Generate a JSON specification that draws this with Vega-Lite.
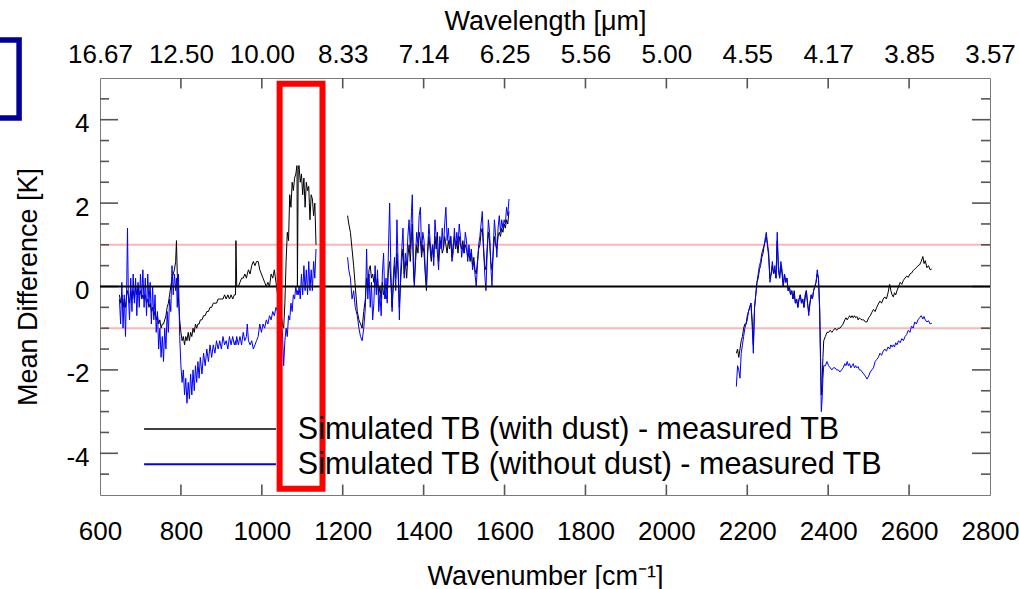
{
  "$schema": "https://vega.github.io/schema/vega-lite/v6.json",
  "width": 890,
  "height": 417,
  "autosize": {"type": "none"},
  "padding": {"left": 100, "top": 78, "right": 29, "bottom": 94},
  "background": "white",
  "config": {
    "view": {"stroke": null},
    "font": "Liberation Sans",
    "axis": {
      "labelColor": "black",
      "titleColor": "black",
      "labelFont": "Liberation Sans",
      "labelFontSize": 26,
      "titleFont": "Liberation Sans",
      "titleFontSize": 27,
      "titleFontWeight": "normal",
      "grid": false
    }
  },
  "datasets": {
    "spec": [
      {"w":648,"a":-0.2,"b":-0.3,"g":1},{"w":651,"a":-0.4,"b":-0.9,"g":1},{"w":654,"a":-0.2,"b":0.1,"g":1},{"w":657,"a":-0.5,"b":-1.0,"g":1},
      {"w":660,"a":-0.3,"b":-0.2,"g":1},{"w":663,"a":-0.5,"b":-1.2,"g":1},{"w":666,"a":-0.2,"b":0.0,"g":1},{"w":668,"a":-0.1,"b":1.4,"g":1},
      {"w":670,"a":-0.2,"b":-0.2,"g":1},{"w":673,"a":-0.4,"b":-0.8,"g":1},{"w":676,"a":-0.1,"b":0.2,"g":1},{"w":679,"a":-0.3,"b":-0.6,"g":1},
      {"w":682,"a":-0.1,"b":0.3,"g":1},{"w":685,"a":-0.3,"b":-0.4,"g":1},{"w":688,"a":0.0,"b":0.2,"g":1},{"w":691,"a":-0.2,"b":-0.7,"g":1},
      {"w":694,"a":0.0,"b":0.1,"g":1},{"w":697,"a":-0.2,"b":-0.5,"g":1},{"w":700,"a":-0.1,"b":0.3,"g":1},{"w":703,"a":-0.3,"b":-0.3,"g":1},
      {"w":706,"a":-0.2,"b":0.4,"g":1},{"w":709,"a":-0.3,"b":-0.5,"g":1},{"w":712,"a":-0.2,"b":0.2,"g":1},{"w":715,"a":-0.4,"b":-0.7,"g":1},
      {"w":718,"a":-0.3,"b":0.3,"g":1},{"w":721,"a":-0.5,"b":-0.4,"g":1},{"w":724,"a":-0.4,"b":0.1,"g":1},{"w":727,"a":-0.6,"b":-0.9,"g":1},
      {"w":730,"a":-0.5,"b":0.0,"g":1},{"w":733,"a":-0.7,"b":-0.8,"g":1},{"w":736,"a":-0.6,"b":-0.2,"g":1},{"w":739,"a":-0.8,"b":-1.1,"g":1},
      {"w":742,"a":-0.7,"b":-0.6,"g":1},{"w":745,"a":-0.9,"b":-1.5,"g":1},{"w":748,"a":-0.8,"b":-1.0,"g":1},{"w":751,"a":-1.0,"b":-1.7,"g":1},
      {"w":754,"a":-0.9,"b":-1.2,"g":1},{"w":757,"a":-0.9,"b":-1.8,"g":1},{"w":760,"a":-0.8,"b":-1.0,"g":1},{"w":763,"a":-0.7,"b":-1.5,"g":1},
      {"w":766,"a":-0.5,"b":-0.6,"g":1},{"w":769,"a":-0.4,"b":-1.1,"g":1},{"w":772,"a":-0.2,"b":-0.3,"g":1},{"w":775,"a":0.0,"b":-0.6,"g":1},
      {"w":778,"a":0.2,"b":0.5,"g":1},{"w":781,"a":0.3,"b":-0.2,"g":1},{"w":784,"a":0.4,"b":0.3,"g":1},{"w":787,"a":0.6,"b":-0.1,"g":1},
      {"w":789,"a":1.1,"b":0.2,"g":1},{"w":791,"a":0.3,"b":-0.5,"g":1},{"w":794,"a":-0.3,"b":0.3,"g":1},{"w":797,"a":-0.8,"b":-1.2,"g":1},
      {"w":800,"a":-1.1,"b":-1.9,"g":1},{"w":803,"a":-1.3,"b":-2.3,"g":1},{"w":806,"a":-1.2,"b":-2.0,"g":1},{"w":809,"a":-1.4,"b":-2.6,"g":1},
      {"w":812,"a":-1.2,"b":-2.2,"g":1},{"w":815,"a":-1.3,"b":-2.8,"g":1},{"w":818,"a":-1.1,"b":-2.3,"g":1},{"w":821,"a":-1.3,"b":-2.7,"g":1},
      {"w":824,"a":-1.1,"b":-2.1,"g":1},{"w":827,"a":-1.2,"b":-2.6,"g":1},{"w":830,"a":-1.0,"b":-2.0,"g":1},{"w":833,"a":-1.1,"b":-2.5,"g":1},
      {"w":836,"a":-0.9,"b":-1.9,"g":1},{"w":839,"a":-1.0,"b":-2.3,"g":1},{"w":842,"a":-0.9,"b":-1.8,"g":1},{"w":845,"a":-0.9,"b":-2.2,"g":1},
      {"w":848,"a":-0.8,"b":-1.7,"g":1},{"w":852,"a":-0.8,"b":-2.1,"g":1},{"w":856,"a":-0.7,"b":-1.6,"g":1},{"w":860,"a":-0.7,"b":-1.9,"g":1},
      {"w":864,"a":-0.6,"b":-1.5,"g":1},{"w":868,"a":-0.6,"b":-1.8,"g":1},{"w":872,"a":-0.5,"b":-1.4,"g":1},{"w":876,"a":-0.5,"b":-1.7,"g":1},
      {"w":880,"a":-0.4,"b":-1.4,"g":1},{"w":884,"a":-0.4,"b":-1.6,"g":1},{"w":888,"a":-0.4,"b":-1.3,"g":1},{"w":892,"a":-0.3,"b":-1.5,"g":1},
      {"w":896,"a":-0.3,"b":-1.3,"g":1},{"w":900,"a":-0.3,"b":-1.5,"g":1},{"w":904,"a":-0.3,"b":-1.2,"g":1},{"w":908,"a":-0.2,"b":-1.4,"g":1},
      {"w":912,"a":-0.3,"b":-1.3,"g":1},{"w":916,"a":-0.2,"b":-1.5,"g":1},{"w":920,"a":-0.3,"b":-1.2,"g":1},{"w":924,"a":-0.2,"b":-1.4,"g":1},
      {"w":928,"a":-0.3,"b":-1.2,"g":1},{"w":932,"a":-0.2,"b":-1.4,"g":1},{"w":935,"a":-0.2,"b":-1.3,"g":1},{"w":936,"a":1.1,"b":-1.4,"g":1},
      {"w":938,"a":0.0,"b":-1.2,"g":1},{"w":942,"a":0.0,"b":-1.4,"g":1},{"w":946,"a":0.1,"b":-1.2,"g":1},{"w":950,"a":0.2,"b":-1.4,"g":1},
      {"w":954,"a":0.2,"b":-1.1,"g":1},{"w":958,"a":0.3,"b":-1.3,"g":1},{"w":962,"a":0.2,"b":-1.2,"g":1},{"w":964,"a":0.3,"b":-0.9,"g":1},
      {"w":967,"a":0.4,"b":-1.3,"g":1},{"w":971,"a":0.3,"b":-1.4,"g":1},{"w":975,"a":0.5,"b":-1.3,"g":1},{"w":979,"a":0.6,"b":-1.5,"g":1},
      {"w":983,"a":0.5,"b":-1.4,"g":1},{"w":987,"a":0.6,"b":-1.3,"g":1},{"w":991,"a":0.6,"b":-1.2,"g":1},{"w":995,"a":0.4,"b":-0.9,"g":1},
      {"w":999,"a":0.3,"b":-1.1,"g":1},{"w":1003,"a":0.2,"b":-0.9,"g":1},{"w":1007,"a":0.1,"b":-1.0,"g":1},{"w":1011,"a":0.0,"b":-0.8,"g":1},
      {"w":1015,"a":0.1,"b":-0.9,"g":1},{"w":1019,"a":0.0,"b":-0.7,"g":1},{"w":1023,"a":0.3,"b":-0.8,"g":1},{"w":1027,"a":0.2,"b":-0.6,"g":1},
      {"w":1031,"a":0.4,"b":-0.7,"g":1},{"w":1035,"a":0.1,"b":-0.5,"g":1},{"w":1039,"a":-0.2,"b":-0.6,"g":1},{"w":1043,"a":-0.4,"b":-0.4,"g":1},
      {"w":1047,"a":-0.6,"b":-0.8,"g":1},{"w":1051,"a":-0.9,"b":-1.1,"g":1},{"w":1054,"a":-1.0,"b":-1.9,"g":1},{"w":1057,"a":-0.4,"b":-1.3,"g":1},
      {"w":1060,"a":0.6,"b":-1.0,"g":1},{"w":1063,"a":1.3,"b":-1.2,"g":1},{"w":1066,"a":1.1,"b":-0.7,"g":1},{"w":1069,"a":2.2,"b":-0.8,"g":1},
      {"w":1072,"a":1.9,"b":-0.4,"g":1},{"w":1075,"a":2.5,"b":-0.6,"g":1},{"w":1078,"a":2.3,"b":-0.2,"g":1},{"w":1081,"a":2.6,"b":-0.3,"g":1},
      {"w":1084,"a":2.7,"b":0.0,"g":1},{"w":1087,"a":2.9,"b":-0.2,"g":1},{"w":1088,"a":0.0,"b":-0.1,"g":1},{"w":1090,"a":2.8,"b":-0.2,"g":1},
      {"w":1092,"a":2.9,"b":0.0,"g":1},{"w":1095,"a":2.5,"b":-0.3,"g":1},{"w":1098,"a":2.7,"b":0.3,"g":1},{"w":1101,"a":2.2,"b":-0.2,"g":1},
      {"w":1104,"a":2.6,"b":0.5,"g":1},{"w":1107,"a":1.9,"b":-0.1,"g":1},{"w":1110,"a":2.5,"b":0.4,"g":1},{"w":1113,"a":2.3,"b":-0.2,"g":1},
      {"w":1116,"a":2.4,"b":0.6,"g":1},{"w":1119,"a":1.6,"b":-0.1,"g":1},{"w":1122,"a":2.2,"b":0.4,"g":1},{"w":1125,"a":2.1,"b":-0.1,"g":1},
      {"w":1128,"a":1.7,"b":0.6,"g":1},{"w":1131,"a":2.0,"b":0.2,"g":1},{"w":1134,"a":1.0,"b":0.9,"g":1},

      {"w":1212,"a":1.7,"b":0.7,"g":2},{"w":1215,"a":1.5,"b":0.4,"g":2},{"w":1219,"a":1.3,"b":0.2,"g":2},{"w":1223,"a":0.9,"b":-0.3,"g":2},
      {"w":1227,"a":0.5,"b":-0.1,"g":2},{"w":1231,"a":0.0,"b":-0.5,"g":2},{"w":1236,"a":-0.6,"b":-0.7,"g":2},{"w":1240,"a":-0.8,"b":-1.0,"g":2},
      {"w":1244,"a":-0.9,"b":-1.2,"g":2},{"w":1248,"a":-1.0,"b":-1.3,"g":2},{"w":1252,"a":-0.6,"b":-1.0,"g":2},{"w":1256,"a":-0.3,"b":-0.5,"g":2},
      {"w":1259,"a":0.2,"b":0.9,"g":2},{"w":1262,"a":0.0,"b":-0.3,"g":2},{"w":1265,"a":0.4,"b":0.3,"g":2},{"w":1268,"a":0.5,"b":-0.5,"g":2},
      {"w":1271,"a":0.2,"b":0.1,"g":2},{"w":1274,"a":0.3,"b":-0.8,"g":2},{"w":1277,"a":0.1,"b":-0.4,"g":2},{"w":1280,"a":0.3,"b":0.5,"g":2},
      {"w":1283,"a":0.0,"b":-0.2,"g":2},{"w":1286,"a":0.2,"b":0.4,"g":2},{"w":1289,"a":-0.2,"b":-0.6,"g":2},{"w":1292,"a":0.0,"b":-0.2,"g":2},
      {"w":1295,"a":-0.3,"b":-0.7,"g":2},{"w":1298,"a":0.1,"b":0.3,"g":2},{"w":1301,"a":-0.2,"b":0.8,"g":2},{"w":1304,"a":-0.1,"b":-0.3,"g":2},
      {"w":1307,"a":-0.3,"b":0.2,"g":2},{"w":1310,"a":-0.2,"b":-0.4,"g":2},{"w":1313,"a":0.4,"b":0.9,"g":2},{"w":1316,"a":0.6,"b":2.0,"g":2},
      {"w":1319,"a":0.1,"b":0.4,"g":2},{"w":1322,"a":-0.5,"b":-0.6,"g":2},{"w":1325,"a":0.0,"b":0.2,"g":2},{"w":1328,"a":0.5,"b":0.7,"g":2},
      {"w":1331,"a":0.2,"b":-0.1,"g":2},{"w":1334,"a":0.8,"b":1.6,"g":2},{"w":1337,"a":0.3,"b":0.5,"g":2},{"w":1340,"a":-0.5,"b":-0.8,"g":2},
      {"w":1343,"a":0.1,"b":0.3,"g":2},{"w":1346,"a":0.6,"b":0.9,"g":2},{"w":1349,"a":0.9,"b":1.4,"g":2},{"w":1352,"a":0.3,"b":0.2,"g":2},
      {"w":1355,"a":0.6,"b":0.8,"g":2},{"w":1358,"a":0.2,"b":0.5,"g":2},{"w":1361,"a":0.7,"b":1.2,"g":2},{"w":1364,"a":1.0,"b":1.6,"g":2},
      {"w":1367,"a":0.6,"b":0.9,"g":2},{"w":1370,"a":1.2,"b":1.8,"g":2},{"w":1372,"a":1.5,"b":2.2,"g":2},{"w":1375,"a":0.4,"b":0.3,"g":2},
      {"w":1377,"a":0.1,"b":0.0,"g":2},{"w":1380,"a":0.6,"b":0.8,"g":2},{"w":1383,"a":1.0,"b":1.3,"g":2},{"w":1386,"a":0.8,"b":1.0,"g":2},
      {"w":1389,"a":1.3,"b":1.7,"g":2},{"w":1392,"a":1.1,"b":1.9,"g":2},{"w":1395,"a":0.7,"b":0.8,"g":2},{"w":1398,"a":1.0,"b":1.3,"g":2},
      {"w":1401,"a":0.8,"b":1.1,"g":2},{"w":1404,"a":0.3,"b":0.4,"g":2},{"w":1407,"a":-0.1,"b":0.0,"g":2},{"w":1410,"a":0.8,"b":0.9,"g":2},
      {"w":1413,"a":1.2,"b":1.5,"g":2},{"w":1416,"a":0.9,"b":1.1,"g":2},{"w":1419,"a":0.6,"b":0.7,"g":2},{"w":1422,"a":1.0,"b":1.0,"g":2},
      {"w":1425,"a":0.7,"b":0.5,"g":2},{"w":1428,"a":1.2,"b":1.6,"g":2},{"w":1431,"a":0.9,"b":1.2,"g":2},{"w":1434,"a":1.3,"b":0.8,"g":2},
      {"w":1437,"a":0.6,"b":0.4,"g":2},{"w":1440,"a":1.0,"b":1.2,"g":2},{"w":1443,"a":1.1,"b":0.9,"g":2},{"w":1446,"a":0.8,"b":1.4,"g":2},
      {"w":1449,"a":0.9,"b":0.9,"g":2},{"w":1452,"a":1.2,"b":1.5,"g":2},{"w":1455,"a":1.0,"b":1.9,"g":2},{"w":1458,"a":0.8,"b":1.1,"g":2},
      {"w":1461,"a":1.1,"b":1.4,"g":2},{"w":1464,"a":0.9,"b":1.0,"g":2},{"w":1467,"a":1.2,"b":1.2,"g":2},{"w":1470,"a":0.7,"b":0.6,"g":2},
      {"w":1473,"a":1.0,"b":0.8,"g":2},{"w":1476,"a":1.2,"b":1.4,"g":2},{"w":1479,"a":0.9,"b":0.9,"g":2},{"w":1482,"a":1.1,"b":1.3,"g":2},
      {"w":1485,"a":0.8,"b":1.0,"g":2},{"w":1488,"a":1.2,"b":1.5,"g":2},{"w":1491,"a":1.0,"b":1.2,"g":2},{"w":1494,"a":0.9,"b":0.7,"g":2},
      {"w":1497,"a":1.1,"b":1.0,"g":2},{"w":1500,"a":0.8,"b":0.8,"g":2},{"w":1503,"a":1.0,"b":1.3,"g":2},{"w":1506,"a":0.9,"b":1.1,"g":2},
      {"w":1509,"a":0.7,"b":0.6,"g":2},{"w":1512,"a":0.8,"b":1.0,"g":2},{"w":1515,"a":0.6,"b":0.7,"g":2},{"w":1518,"a":0.8,"b":0.9,"g":2},
      {"w":1521,"a":0.5,"b":0.4,"g":2},{"w":1524,"a":0.7,"b":0.6,"g":2},{"w":1527,"a":0.4,"b":0.3,"g":2},{"w":1530,"a":0.3,"b":0.0,"g":2},
      {"w":1533,"a":0.6,"b":0.5,"g":2},{"w":1536,"a":0.9,"b":1.0,"g":2},{"w":1539,"a":1.0,"b":1.2,"g":2},{"w":1542,"a":1.3,"b":1.5,"g":2},
      {"w":1545,"a":1.4,"b":1.8,"g":2},{"w":1548,"a":0.9,"b":1.0,"g":2},{"w":1551,"a":0.5,"b":0.3,"g":2},{"w":1554,"a":0.4,"b":-0.1,"g":2},
      {"w":1557,"a":0.9,"b":0.8,"g":2},{"w":1560,"a":1.3,"b":1.6,"g":2},{"w":1563,"a":1.1,"b":1.3,"g":2},{"w":1566,"a":0.6,"b":0.5,"g":2},
      {"w":1569,"a":0.4,"b":0.0,"g":2},{"w":1572,"a":0.8,"b":0.9,"g":2},{"w":1575,"a":1.2,"b":1.6,"g":2},{"w":1578,"a":1.0,"b":1.2,"g":2},
      {"w":1581,"a":0.9,"b":0.7,"g":2},{"w":1584,"a":1.2,"b":1.4,"g":2},{"w":1587,"a":1.3,"b":1.7,"g":2},{"w":1590,"a":1.2,"b":1.3,"g":2},
      {"w":1593,"a":1.4,"b":1.6,"g":2},{"w":1596,"a":1.3,"b":1.4,"g":2},{"w":1599,"a":1.5,"b":1.6,"g":2},{"w":1602,"a":1.4,"b":1.5,"g":2},
      {"w":1605,"a":1.6,"b":1.9,"g":2},{"w":1608,"a":1.5,"b":1.7,"g":2},{"w":1611,"a":1.8,"b":2.1,"g":2},

      {"w":2173,"a":-1.6,"b":-2.4,"g":3},{"w":2176,"a":-1.5,"b":-1.9,"g":3},{"w":2179,"a":-1.7,"b":-2.0,"g":3},{"w":2182,"a":-1.5,"b":-2.2,"g":3},
      {"w":2185,"a":-1.3,"b":-1.6,"g":3},{"w":2188,"a":-1.2,"b":-1.4,"g":3},{"w":2191,"a":-1.0,"b":-1.2,"g":3},{"w":2194,"a":-0.9,"b":-1.0,"g":3},
      {"w":2197,"a":-0.9,"b":-0.9,"g":3},{"w":2200,"a":-0.7,"b":-0.8,"g":3},{"w":2203,"a":-0.6,"b":-0.6,"g":3},{"w":2206,"a":-0.5,"b":-0.5,"g":3},
      {"w":2209,"a":-0.4,"b":-0.4,"g":3},{"w":2212,"a":-0.8,"b":-0.9,"g":3},{"w":2215,"a":-1.4,"b":-1.6,"g":3},{"w":2218,"a":-0.5,"b":-0.5,"g":3},
      {"w":2221,"a":-0.2,"b":-0.2,"g":3},{"w":2224,"a":0.1,"b":0.1,"g":3},{"w":2227,"a":0.2,"b":0.3,"g":3},{"w":2230,"a":0.4,"b":0.5,"g":3},
      {"w":2233,"a":0.5,"b":0.6,"g":3},{"w":2236,"a":0.7,"b":0.8,"g":3},{"w":2239,"a":0.8,"b":0.9,"g":3},{"w":2242,"a":1.0,"b":1.0,"g":3},
      {"w":2245,"a":1.1,"b":1.2,"g":3},{"w":2247,"a":1.2,"b":1.3,"g":3},{"w":2250,"a":1.0,"b":1.0,"g":3},{"w":2253,"a":0.7,"b":0.8,"g":3},
      {"w":2256,"a":0.2,"b":0.1,"g":3},{"w":2259,"a":0.3,"b":0.3,"g":3},{"w":2262,"a":0.5,"b":0.6,"g":3},{"w":2265,"a":0.3,"b":0.3,"g":3},
      {"w":2268,"a":0.4,"b":0.5,"g":3},{"w":2271,"a":0.2,"b":0.2,"g":3},{"w":2274,"a":1.1,"b":1.3,"g":3},{"w":2277,"a":0.4,"b":0.5,"g":3},
      {"w":2280,"a":0.2,"b":0.2,"g":3},{"w":2283,"a":0.5,"b":0.6,"g":3},{"w":2286,"a":0.3,"b":0.4,"g":3},{"w":2289,"a":0.0,"b":0.0,"g":3},
      {"w":2292,"a":0.3,"b":0.3,"g":3},{"w":2295,"a":0.1,"b":0.1,"g":3},{"w":2298,"a":0.2,"b":0.2,"g":3},{"w":2301,"a":-0.1,"b":-0.1,"g":3},
      {"w":2304,"a":0.0,"b":0.0,"g":3},{"w":2307,"a":-0.2,"b":-0.2,"g":3},{"w":2310,"a":-0.1,"b":-0.1,"g":3},{"w":2313,"a":-0.3,"b":-0.3,"g":3},
      {"w":2316,"a":-0.1,"b":-0.2,"g":3},{"w":2319,"a":-0.4,"b":-0.4,"g":3},{"w":2322,"a":-0.3,"b":-0.3,"g":3},{"w":2325,"a":-0.5,"b":-0.5,"g":3},
      {"w":2328,"a":-0.3,"b":-0.3,"g":3},{"w":2331,"a":-0.2,"b":-0.2,"g":3},{"w":2334,"a":-0.4,"b":-0.4,"g":3},{"w":2337,"a":-0.3,"b":-0.3,"g":3},
      {"w":2340,"a":-0.5,"b":-0.5,"g":3},{"w":2343,"a":-0.2,"b":-0.3,"g":3},{"w":2346,"a":-0.1,"b":-0.1,"g":3},{"w":2349,"a":-0.4,"b":-0.4,"g":3},
      {"w":2352,"a":-0.6,"b":-0.7,"g":3},{"w":2355,"a":-0.4,"b":-0.4,"g":3},{"w":2358,"a":-0.2,"b":-0.2,"g":3},{"w":2361,"a":-0.3,"b":-0.3,"g":3},
      {"w":2364,"a":-0.1,"b":-0.1,"g":3},{"w":2367,"a":0.0,"b":0.0,"g":3},{"w":2370,"a":0.1,"b":0.1,"g":3},{"w":2373,"a":0.3,"b":0.4,"g":3},
      {"w":2376,"a":0.2,"b":0.2,"g":3},{"w":2379,"a":-0.5,"b":-0.6,"g":3},{"w":2381,"a":-1.6,"b":-1.8,"g":3},{"w":2383,"a":-2.6,"b":-3.0,"g":3},
      {"w":2385,"a":-2.3,"b":-2.7,"g":3},{"w":2387,"a":-1.7,"b":-2.2,"g":3},{"w":2389,"a":-1.3,"b":-1.9,"g":3},{"w":2393,"a":-1.2,"b":-1.9,"g":3},
      {"w":2397,"a":-1.1,"b":-1.8,"g":3},{"w":2401,"a":-1.1,"b":-1.9,"g":3},{"w":2405,"a":-1.05,"b":-1.95,"g":3},{"w":2409,"a":-1.1,"b":-2.0,"g":3},
      {"w":2413,"a":-1.05,"b":-1.95,"g":3},{"w":2417,"a":-1.0,"b":-1.95,"g":3},{"w":2421,"a":-1.05,"b":-2.0,"g":3},{"w":2425,"a":-1.0,"b":-2.0,"g":3},
      {"w":2429,"a":-1.0,"b":-2.05,"g":3},{"w":2433,"a":-0.95,"b":-2.0,"g":3},{"w":2437,"a":-0.9,"b":-1.95,"g":3},{"w":2441,"a":-0.8,"b":-1.85,"g":3},
      {"w":2444,"a":-0.75,"b":-1.9,"g":3},{"w":2447,"a":-0.8,"b":-1.8,"g":3},{"w":2450,"a":-0.75,"b":-1.9,"g":3},{"w":2453,"a":-0.7,"b":-1.85,"g":3},
      {"w":2456,"a":-0.75,"b":-1.95,"g":3},{"w":2459,"a":-0.7,"b":-1.9,"g":3},{"w":2462,"a":-0.75,"b":-1.85,"g":3},{"w":2465,"a":-0.7,"b":-1.95,"g":3},
      {"w":2468,"a":-0.75,"b":-1.9,"g":3},{"w":2471,"a":-0.72,"b":-1.95,"g":3},{"w":2474,"a":-0.8,"b":-1.92,"g":3},{"w":2477,"a":-0.75,"b":-2.0,"g":3},
      {"w":2480,"a":-0.78,"b":-2.0,"g":3},{"w":2484,"a":-0.8,"b":-2.05,"g":3},{"w":2488,"a":-0.8,"b":-2.1,"g":3},{"w":2492,"a":-0.85,"b":-2.15,"g":3},
      {"w":2496,"a":-0.85,"b":-2.22,"g":3},{"w":2500,"a":-0.75,"b":-2.15,"g":3},{"w":2504,"a":-0.7,"b":-2.05,"g":3},{"w":2508,"a":-0.62,"b":-2.0,"g":3},
      {"w":2512,"a":-0.55,"b":-1.95,"g":3},{"w":2516,"a":-0.6,"b":-1.8,"g":3},{"w":2520,"a":-0.5,"b":-1.75,"g":3},{"w":2524,"a":-0.42,"b":-1.7,"g":3},
      {"w":2528,"a":-0.35,"b":-1.6,"g":3},{"w":2532,"a":-0.4,"b":-1.65,"g":3},{"w":2536,"a":-0.3,"b":-1.55,"g":3},{"w":2540,"a":-0.25,"b":-1.5,"g":3},
      {"w":2544,"a":-0.3,"b":-1.55,"g":3},{"w":2548,"a":-0.15,"b":-1.45,"g":3},{"w":2552,"a":0.05,"b":-1.5,"g":3},{"w":2555,"a":-0.1,"b":-1.4,"g":3},
      {"w":2558,"a":-0.2,"b":-1.45,"g":3},{"w":2561,"a":-0.25,"b":-1.4,"g":3},{"w":2564,"a":-0.15,"b":-1.45,"g":3},{"w":2567,"a":-0.2,"b":-1.35,"g":3},
      {"w":2570,"a":-0.1,"b":-1.4,"g":3},{"w":2574,"a":0.0,"b":-1.3,"g":3},{"w":2578,"a":0.1,"b":-1.35,"g":3},{"w":2582,"a":0.05,"b":-1.25,"g":3},
      {"w":2586,"a":0.15,"b":-1.3,"g":3},{"w":2590,"a":0.2,"b":-1.2,"g":3},{"w":2594,"a":0.25,"b":-1.15,"g":3},{"w":2598,"a":0.22,"b":-1.05,"g":3},
      {"w":2602,"a":0.3,"b":-1.1,"g":3},{"w":2606,"a":0.32,"b":-0.95,"g":3},{"w":2610,"a":0.38,"b":-1.0,"g":3},{"w":2614,"a":0.42,"b":-0.85,"g":3},
      {"w":2618,"a":0.45,"b":-0.9,"g":3},{"w":2622,"a":0.5,"b":-0.8,"g":3},{"w":2626,"a":0.52,"b":-0.75,"g":3},{"w":2630,"a":0.6,"b":-0.7,"g":3},
      {"w":2634,"a":0.72,"b":-0.78,"g":3},{"w":2637,"a":0.55,"b":-0.72,"g":3},{"w":2640,"a":0.62,"b":-0.8,"g":3},{"w":2644,"a":0.45,"b":-0.85,"g":3},
      {"w":2648,"a":0.5,"b":-0.82,"g":3},{"w":2652,"a":0.4,"b":-0.9,"g":3},{"w":2656,"a":0.42,"b":-0.88,"g":3}
    ]
  },
  "layer": [
    {
      "data": {"values": [{"v": 1}, {"v": -1}]},
      "mark": {"type": "rule", "color": "#ffb4b4", "strokeWidth": 2},
      "encoding": {
        "y": {"field": "v", "type": "quantitative", "scale": {"domain": [-5, 5], "nice": false, "zero": false}, "axis": null}
      }
    },
    {
      "data": {"values": [{"t": -4}, {"t": -2}, {"t": 0}, {"t": 2}, {"t": 4}]},
      "mark": {"type": "rule", "color": "#555555", "strokeWidth": 1.6},
      "encoding": {
        "x": {"datum": 600, "type": "quantitative", "scale": {"domain": [600, 2800], "nice": false, "zero": false}, "axis": null},
        "x2": {"datum": 644.5},
        "y": {"field": "t", "type": "quantitative", "scale": {"domain": [-5, 5], "nice": false, "zero": false}, "axis": null}
      }
    },
    {
      "data": {"values": [{"t": -4}, {"t": -2}, {"t": 0}, {"t": 2}, {"t": 4}]},
      "mark": {"type": "rule", "color": "#555555", "strokeWidth": 1.6},
      "encoding": {
        "x": {"datum": 2755.5, "type": "quantitative", "scale": {"domain": [600, 2800], "nice": false, "zero": false}, "axis": null},
        "x2": {"datum": 2800},
        "y": {"field": "t", "type": "quantitative", "scale": {"domain": [-5, 5], "nice": false, "zero": false}, "axis": null}
      }
    },
    {
      "data": {"values": [{"t": -4.5}, {"t": -3.5}, {"t": -3}, {"t": -2.5}, {"t": -1.5}, {"t": -1}, {"t": -0.5}, {"t": 0.5}, {"t": 1}, {"t": 1.5}, {"t": 2.5}, {"t": 3}, {"t": 3.5}, {"t": 4.5}]},
      "mark": {"type": "rule", "color": "#555555", "strokeWidth": 1.6},
      "encoding": {
        "x": {"datum": 600, "type": "quantitative", "scale": {"domain": [600, 2800], "nice": false, "zero": false}, "axis": null},
        "x2": {"datum": 622.25},
        "y": {"field": "t", "type": "quantitative", "scale": {"domain": [-5, 5], "nice": false, "zero": false}, "axis": null}
      }
    },
    {
      "data": {"values": [{"t": -4.5}, {"t": -3.5}, {"t": -3}, {"t": -2.5}, {"t": -1.5}, {"t": -1}, {"t": -0.5}, {"t": 0.5}, {"t": 1}, {"t": 1.5}, {"t": 2.5}, {"t": 3}, {"t": 3.5}, {"t": 4.5}]},
      "mark": {"type": "rule", "color": "#555555", "strokeWidth": 1.6},
      "encoding": {
        "x": {"datum": 2777.75, "type": "quantitative", "scale": {"domain": [600, 2800], "nice": false, "zero": false}, "axis": null},
        "x2": {"datum": 2800},
        "y": {"field": "t", "type": "quantitative", "scale": {"domain": [-5, 5], "nice": false, "zero": false}, "axis": null}
      }
    },
    {
      "data": {"values": [{"t": 800}, {"t": 1000}, {"t": 1200}, {"t": 1400}, {"t": 1600}, {"t": 1800}, {"t": 2000}, {"t": 2200}, {"t": 2400}, {"t": 2600}]},
      "mark": {"type": "rule", "color": "#555555", "strokeWidth": 1.6},
      "encoding": {
        "x": {"field": "t", "type": "quantitative", "scale": {"domain": [600, 2800], "nice": false, "zero": false}, "axis": null},
        "y": {"datum": -5, "type": "quantitative", "scale": {"domain": [-5, 5], "nice": false, "zero": false}, "axis": null},
        "y2": {"datum": -4.75}
      }
    },
    {
      "data": {"values": [{"t": 800}, {"t": 1000}, {"t": 1200}, {"t": 1400}, {"t": 1600}, {"t": 1800}, {"t": 2000}, {"t": 2200}, {"t": 2400}, {"t": 2600}]},
      "mark": {"type": "rule", "color": "#555555", "strokeWidth": 1.6},
      "encoding": {
        "x": {"field": "t", "type": "quantitative", "scale": {"domain": [600, 2800], "nice": false, "zero": false}, "axis": null},
        "y": {"datum": 5, "type": "quantitative", "scale": {"domain": [-5, 5], "nice": false, "zero": false}, "axis": null},
        "y2": {"datum": 4.75}
      }
    },
    {
      "data": {"name": "spec"},
      "mark": {"type": "line", "color": "black", "strokeWidth": 1},
      "encoding": {
        "x": {"field": "w", "type": "quantitative", "scale": {"domain": [600, 2800], "nice": false, "zero": false},
          "axis": {"orient": "bottom", "values": [600, 800, 1000, 1200, 1400, 1600, 1800, 2000, 2200, 2400, 2600, 2800], "format": "d", "ticks": false, "domainColor": "#7a7a7a", "domainWidth": 1, "labelFlush": false, "labelOverlap": false, "labelPadding": 44, "labelBaseline": "alphabetic", "title": "Wavenumber [cm⁻¹]", "titleBaseline": "alphabetic", "titleX": 445, "titleY": 89, "offset": 0}},
        "y": {"field": "a", "type": "quantitative", "scale": {"domain": [-5, 5], "nice": false, "zero": false},
          "axis": {"orient": "left", "values": [-4, -2, 0, 2, 4], "labelExpr": "datum.value + ''", "ticks": false, "domainColor": "#7a7a7a", "domainWidth": 1, "labelFlush": false, "labelOverlap": false, "labelPadding": 11, "labelBaseline": "middle", "labelOffset": 4, "title": "Mean Difference [K]", "titleAngle": -90, "titleBaseline": "alphabetic", "titleAlign": "center", "titleX": -63.5, "titleY": 208.5, "offset": 0}},
        "detail": {"field": "g", "type": "nominal"}
      }
    },
    {
      "data": {"name": "spec"},
      "mark": {"type": "line", "color": "#0000ff", "strokeWidth": 1},
      "encoding": {
        "x": {"field": "w", "type": "quantitative", "scale": {"domain": [600, 2800], "nice": false, "zero": false},
          "axis": {"orient": "top", "values": [600, 800, 1000, 1200, 1400, 1600, 1800, 2000, 2200, 2400, 2600, 2800], "labelExpr": "format(10000/datum.value, '.2f')", "ticks": false, "domainColor": "#7a7a7a", "domainWidth": 1, "labelFlush": false, "labelOverlap": false, "labelPadding": 16, "labelBaseline": "alphabetic", "title": "Wavelength [μm]", "titleBaseline": "alphabetic", "titleX": 445, "titleY": -49, "offset": 0}},
        "y": {"field": "b", "type": "quantitative", "scale": {"domain": [-5, 5], "nice": false, "zero": false},
          "axis": {"orient": "right", "ticks": false, "labels": false, "domainColor": "#7a7a7a", "domainWidth": 1, "title": null, "offset": 0}},
        "detail": {"field": "g", "type": "nominal"}
      }
    },
    {
      "data": {"values": [{"v": 0}]},
      "mark": {"type": "rule", "color": "black", "strokeWidth": 2},
      "encoding": {
        "y": {"field": "v", "type": "quantitative", "scale": {"domain": [-5, 5], "nice": false, "zero": false}, "axis": null}
      }
    },
    {
      "data": {"values": [{}]},
      "mark": {"type": "rect", "filled": false, "stroke": "#ff0000", "strokeWidth": 6},
      "encoding": {
        "x": {"datum": 1044, "type": "quantitative", "scale": {"domain": [600, 2800], "nice": false, "zero": false}, "axis": null},
        "x2": {"datum": 1150},
        "y": {"datum": 4.86, "type": "quantitative", "scale": {"domain": [-5, 5], "nice": false, "zero": false}, "axis": null},
        "y2": {"datum": -4.85}
      }
    },
    {
      "data": {"values": [{}]},
      "mark": {"type": "rect", "filled": false, "stroke": "#000099", "strokeWidth": 5.5},
      "encoding": {
        "x": {"datum": 300, "type": "quantitative", "scale": {"domain": [600, 2800], "nice": false, "zero": false}, "axis": null},
        "x2": {"datum": 400},
        "y": {"datum": 5.91, "type": "quantitative", "scale": {"domain": [-5, 5], "nice": false, "zero": false}, "axis": null},
        "y2": {"datum": 4.04}
      }
    },
    {
      "data": {"values": [{}]},
      "mark": {"type": "rule", "color": "black", "strokeWidth": 1.5},
      "encoding": {
        "x": {"datum": 709, "type": "quantitative", "scale": {"domain": [600, 2800], "nice": false, "zero": false}, "axis": null},
        "x2": {"datum": 1035},
        "y": {"datum": -3.42, "type": "quantitative", "scale": {"domain": [-5, 5], "nice": false, "zero": false}, "axis": null}
      }
    },
    {
      "data": {"values": [{}]},
      "mark": {"type": "rule", "color": "#0000ff", "strokeWidth": 2},
      "encoding": {
        "x": {"datum": 709, "type": "quantitative", "scale": {"domain": [600, 2800], "nice": false, "zero": false}, "axis": null},
        "x2": {"datum": 1035},
        "y": {"datum": -4.26, "type": "quantitative", "scale": {"domain": [-5, 5], "nice": false, "zero": false}, "axis": null}
      }
    },
    {
      "data": {"values": [{}]},
      "mark": {"type": "text", "align": "left", "baseline": "alphabetic", "font": "Liberation Sans", "fontSize": 30.5, "color": "black"},
      "encoding": {
        "x": {"datum": 1089, "type": "quantitative", "scale": {"domain": [600, 2800], "nice": false, "zero": false}, "axis": null},
        "y": {"datum": -3.66, "type": "quantitative", "scale": {"domain": [-5, 5], "nice": false, "zero": false}, "axis": null},
        "text": {"value": "Simulated TB (with dust) - measured TB"}
      }
    },
    {
      "data": {"values": [{}]},
      "mark": {"type": "text", "align": "left", "baseline": "alphabetic", "font": "Liberation Sans", "fontSize": 30.5, "color": "black"},
      "encoding": {
        "x": {"datum": 1089, "type": "quantitative", "scale": {"domain": [600, 2800], "nice": false, "zero": false}, "axis": null},
        "y": {"datum": -4.5, "type": "quantitative", "scale": {"domain": [-5, 5], "nice": false, "zero": false}, "axis": null},
        "text": {"value": "Simulated TB (without dust) - measured TB"}
      }
    }
  ],
  "resolve": {"axis": {"x": "independent", "y": "independent"}}
}
